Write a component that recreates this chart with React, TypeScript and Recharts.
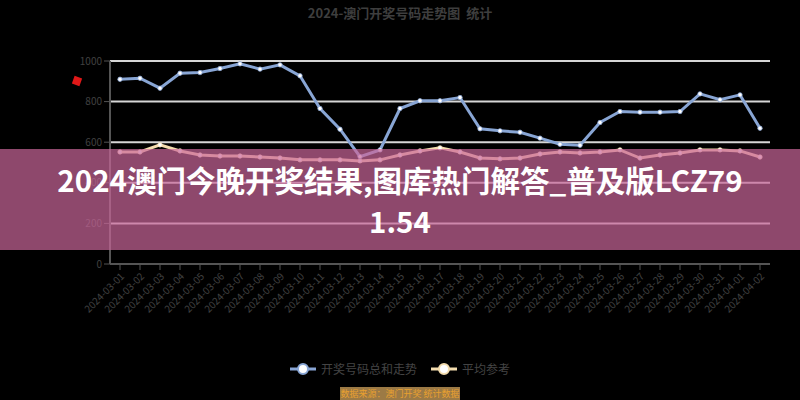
import React from 'react';
import {
    LineChart,
    Line,
    XAxis,
    YAxis,
    CartesianGrid,
} from 'recharts';

document.body.style.margin = '0';
document.body.style.background = '#000';

const DATES = [
    '2024-03-01', '2024-03-02', '2024-03-03', '2024-03-04', '2024-03-05', '2024-03-06',
    '2024-03-07', '2024-03-08', '2024-03-09', '2024-03-10', '2024-03-11', '2024-03-12',
    '2024-03-13', '2024-03-14', '2024-03-15', '2024-03-16', '2024-03-17', '2024-03-18',
    '2024-03-19', '2024-03-20', '2024-03-21', '2024-03-22', '2024-03-23', '2024-03-24',
    '2024-03-25', '2024-03-26', '2024-03-27', '2024-03-28', '2024-03-29', '2024-03-30',
    '2024-03-31', '2024-04-01', '2024-04-02',
];

const SERIES_A = [
    910, 915, 866, 940, 943, 963, 986, 960, 981, 927, 766,
    664, 529, 562, 766, 804, 804, 820, 666, 656, 649, 620,
    590, 585, 697, 751, 748, 748, 751, 838, 809, 833, 669,
];

const SERIES_B = [
    552, 552, 587, 557, 537, 532, 532, 527, 522, 513, 513,
    513, 508, 513, 537, 557, 572, 552, 522, 518, 522, 542,
    552, 547, 552, 562, 522, 537, 547, 562, 562, 557, 527,
];

const Y_TICKS = [0, 200, 400, 600, 800, 1000];

const NAMES = { a: '开奖号码总和走势', b: '平均参考' };
const COLORS = { a: '#88a5d4', b: '#f3dcae' };

const data = DATES.map((date, i) => ({ date, a: SERIES_A[i], b: SERIES_B[i] }));

const Dot = (color: string) => (props: any) => {
    const { cx, cy, index } = props;
    if (cx == null || cy == null) return null;
    return <circle key={index} cx={cx} cy={cy} r={2.2} fill="#fff" stroke={color} strokeWidth={0.8} />;
};

const LegendIcon = ({ color }: { color: string }) => (
    <svg width={26} height={14} style={{ marginRight: 5 }}>
        <line x1={0} y1={7} x2={26} y2={7} stroke={color} strokeWidth={3} />
        <circle cx={13} cy={7} r={5} fill="#fff" stroke={color} strokeWidth={2} />
    </svg>
);

export default function App() {
    return (
        <div style={{
            position: 'relative', width: 800, height: 400, background: '#000',
            fontFamily: '"Noto Sans CJK SC", "Noto Sans", sans-serif', overflow: 'hidden',
        }}>
            <div style={{
                position: 'absolute', top: 3, left: 0, width: 800, textAlign: 'center',
                fontSize: 13, fontWeight: 700, color: '#3e3e3e',
            }}>
                2024-澳门开奖号码走势图&nbsp;&nbsp;统计
            </div>

            <div style={{
                position: 'absolute', left: 73, top: 77, width: 8, height: 8,
                background: '#e01818', transform: 'rotate(20deg)',
            }} />

            <LineChart width={800} height={400} data={data}
                margin={{ top: 61, right: 30, bottom: 80, left: 0 }}>
                <CartesianGrid vertical={false} stroke="#d6d6d6" strokeWidth={2} />
                <XAxis
                    dataKey="date"
                    interval={0}
                    angle={-45}
                    textAnchor="end"
                    height={56}
                    padding={{ left: 10, right: 10 }}
                    tick={{ fontSize: 10, fill: '#404040' }}
                    axisLine={{ stroke: '#555', strokeWidth: 2 }}
                    tickLine={{ stroke: '#555' }}
                />
                <YAxis
                    domain={[0, 1000]}
                    ticks={Y_TICKS}
                    width={110}
                    tick={{ fontSize: 10, fill: '#404040' }}
                    axisLine={{ stroke: '#555', strokeWidth: 2 }}
                    tickLine={{ stroke: '#555' }}
                />
                <Line dataKey="b" name={NAMES.b} stroke={COLORS.b} strokeWidth={3}
                    dot={Dot(COLORS.b)} isAnimationActive={false} />
                <Line dataKey="a" name={NAMES.a} stroke={COLORS.a} strokeWidth={3}
                    dot={Dot(COLORS.a)} isAnimationActive={false} />
            </LineChart>

            {/* legend */}
            <div style={{
                position: 'absolute', top: 360, left: 0, width: 800,
                display: 'flex', justifyContent: 'center', alignItems: 'center',
                fontSize: 12, color: '#444',
            }}>
                <span style={{ display: 'flex', alignItems: 'center', marginRight: 14 }}>
                    <LegendIcon color={COLORS.a} />{NAMES.a}
                </span>
                <span style={{ display: 'flex', alignItems: 'center' }}>
                    <LegendIcon color={COLORS.b} />{NAMES.b}
                </span>
            </div>

            <div style={{
                position: 'absolute', top: 387, left: 340, width: 120, height: 13,
                background: '#9c7a45', color: '#e8a030', fontSize: 9, lineHeight: '13px',
                textAlign: 'center', overflow: 'hidden',
            }}>
                数据来源：澳门开奖 统计数据
            </div>

            {/* overlay banner */}
            <div style={{
                position: 'absolute', top: 149, left: 0, width: 800, height: 101,
                background: 'rgba(203,103,154,0.7)', color: '#fff',
                fontSize: 29.5, fontWeight: 700, lineHeight: '41px', textAlign: 'center',
                display: 'flex', flexDirection: 'column', justifyContent: 'center',
            }}>
                <div>2024澳门今晚开奖结果,图库热门解答_普及版LCZ79</div>
                <div>1.54</div>
            </div>
        </div>
    );
}
